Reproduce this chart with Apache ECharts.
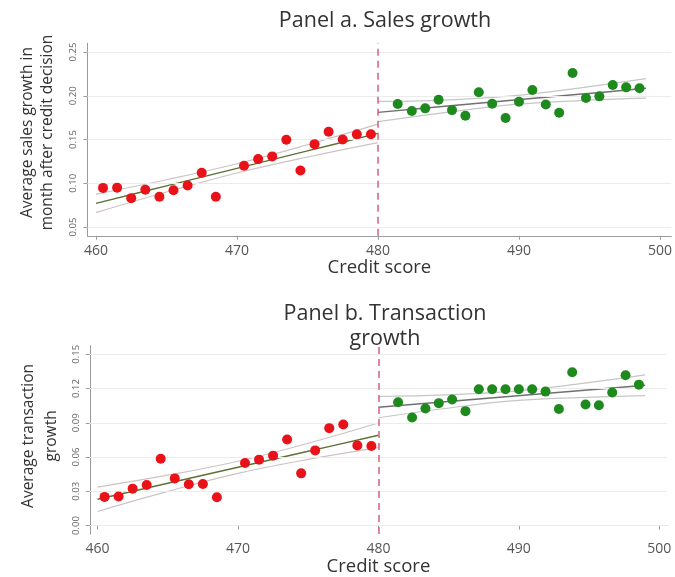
<!DOCTYPE html>
<html>
<head>
<meta charset="utf-8">
<script src="https://cdn.jsdelivr.net/npm/echarts@6/dist/echarts.min.js"></script>
<style>
html,body{margin:0;padding:0;background:#fff;}
#c{width:675px;height:577px;}
</style>
</head>
<body>
<div id="c"></div>
<script>
// ---- data ----
const scoreLeft = [460.5,461.5,462.5,463.5,464.5,465.5,466.5,467.5,468.5,470.5,471.5,472.5,473.5,474.5,475.5,476.5,477.5,478.5,479.5];
const scoreRight = [481.4,482.4,483.35,484.3,485.25,486.2,487.15,488.1,489.05,490.0,490.95,491.9,492.85,493.8,494.75,495.7,496.65,497.6,498.55];

const salesLeft = [0.0947,0.095,0.083,0.0925,0.0845,0.092,0.0975,0.112,0.0845,0.120,0.1276,0.1307,0.1497,0.1146,0.1447,0.1588,0.150,0.156,0.156];
const salesRight = [0.1905,0.1825,0.1856,0.1954,0.1836,0.1771,0.2039,0.1909,0.1745,0.1932,0.2065,0.1901,0.1806,0.226,0.1974,0.1993,0.2122,0.2096,0.2085];

const transLeft = [0.0251,0.0254,0.0323,0.0355,0.0585,0.0413,0.0361,0.0364,0.0247,0.0548,0.0577,0.0612,0.0754,0.0457,0.0658,0.0853,0.0885,0.0702,0.0696];
const transRight = [0.108,0.0946,0.1025,0.1072,0.1104,0.1002,0.1194,0.1194,0.1194,0.1194,0.1194,0.1173,0.102,0.1343,0.106,0.1054,0.1165,0.1316,0.1234];

// fitted lines and confidence bands
const fitXLeft = [460,465,470,475,480];
const fitXRight = [480,484.75,489.5,494.25,499];
const salesFitL = [0.077,0.097,0.117,0.137,0.157];
const salesUpL  = [0.0875,0.104,0.1223,0.144,0.1675];
const salesLoL  = [0.0665,0.090,0.1117,0.130,0.1465];
const salesFitR = [0.181,0.1879,0.1948,0.2016,0.2085];
const salesUpR  = [0.1935,0.1951,0.1998,0.2088,0.2195];
const salesLoR  = [0.1705,0.1807,0.1898,0.1944,0.1972];
const transFitL = [0.023,0.037,0.051,0.065,0.079];
const transUpL  = [0.0337,0.0441,0.0563,0.0721,0.0898];
const transLoL  = [0.0123,0.0299,0.0457,0.0579,0.0682];
const transFitR = [0.1037,0.1085,0.1133,0.1181,0.1229];
const transUpR  = [0.113,0.1145,0.1175,0.1241,0.132];
const transLoR  = [0.0944,0.1025,0.1091,0.1121,0.1138];

const xTicks = [460,470,480,490,500];
const yTicksA = [0.05,0.10,0.15,0.20,0.25];
const yTicksB = [0.00,0.03,0.06,0.09,0.12,0.15];
const cutoff = 480;

// ---- build ----
const FONT = "'Open Sans', 'Noto Sans', sans-serif";
const zip = (xs, ys) => xs.map((x, i) => [x, ys[i]]);
const RED = '#ea1219', GREEN = '#1e8a1e';

function xAxis(gi, min, max) {
  return {
    gridIndex: gi, type: 'value', min: min, max: max,
    name: 'Credit score', nameLocation: 'middle', nameGap: 22,
    nameTextStyle: {fontSize: 18.5, color: '#333', fontFamily: FONT},
    axisLine: {lineStyle: {color: '#9a9a9a', width: 1}},
    axisTick: {customValues: xTicks, length: 4, lineStyle: {color: '#9a9a9a'}},
    axisLabel: {customValues: xTicks, color: '#555', fontSize: 14, margin: 8, fontFamily: FONT},
    splitLine: {show: false}
  };
}
function yAxis(gi, min, max, ticks, name, lh, gap, shift) {
  return {
    gridIndex: gi, type: 'value', min: min, max: max,
    name: name, nameLocation: 'middle', nameGap: gap, nameRotate: 90,
    nameTextStyle: {fontSize: 15.5, color: '#333', fontFamily: FONT, lineHeight: lh, align: 'center',
      padding: [0, 0, 0, shift]},
    axisLine: {show: true, lineStyle: {color: '#9a9a9a', width: 1}},
    axisTick: {show: true, customValues: ticks, length: 4, lineStyle: {color: '#9a9a9a'}},
    axisLabel: {customValues: ticks, rotate: 90, color: '#666', fontSize: 9.5, margin: 9, fontFamily: FONT,
      formatter: v => v.toFixed(2)},
    splitLine: {show: false}
  };
}
function panelSeries(gi, ticks, lY, rY, fL, uL, loL, fR, uR, loR) {
  const base = {xAxisIndex: gi, yAxisIndex: gi};
  const lineS = (data, color, w, z) => Object.assign({
    type: 'line', data: data, smooth: 0.4, symbol: 'none', silent: true, z: z,
    lineStyle: {color: color, width: w}
  }, base);
  return [
    Object.assign({
      type: 'line', data: [], z: 1, silent: true,
      markLine: {silent: true, symbol: 'none', label: {show: false},
        lineStyle: {color: '#ececec', width: 1, type: 'solid'},
        data: ticks.map(t => ({yAxis: t}))}
    }, base),
    lineS(zip(fitXLeft, uL), '#cdc3c3', 1.2, 3),
    lineS(zip(fitXLeft, loL), '#cdc3c3', 1.2, 3),
    lineS(zip(fitXLeft, fL), '#5c7236', 1.5, 3),
    lineS(zip(fitXRight, uR), '#c6c6c6', 1.2, 3),
    lineS(zip(fitXRight, loR), '#c6c6c6', 1.2, 3),
    lineS(zip(fitXRight, fR), '#707070', 1.5, 3),
    Object.assign({type: 'scatter', data: zip(scoreLeft, lY), symbolSize: 10, z: 5,
      itemStyle: {color: RED, opacity: 1}}, base),
    Object.assign({type: 'scatter', data: zip(scoreRight, rY), symbolSize: 10, z: 5,
      itemStyle: {color: GREEN, opacity: 1}}, base),
    Object.assign({
      type: 'line', data: [], z: 6, silent: true,
      markLine: {silent: true, symbol: 'none', label: {show: false},
        lineStyle: {color: '#d6607e', width: 1.5, type: [7, 5]},
        data: [{xAxis: cutoff}]}
    }, base)
  ];
}

const chart = echarts.init(document.getElementById('c'), null, {renderer: 'canvas'});
chart.setOption({
  backgroundColor: '#ffffff',
  animation: false,
  title: [
    {text: 'Panel a. Sales growth', left: 380, top: 5, textAlign: 'center',
      textStyle: {fontSize: 21.5, fontWeight: 'normal', color: '#333', fontFamily: FONT}},
    {text: 'Panel b. Transaction\ngrowth', left: 380, top: 296, textAlign: 'center',
      textStyle: {fontSize: 21.5, fontWeight: 'normal', color: '#333', fontFamily: FONT, lineHeight: 25}}
  ],
  grid: [
    {left: 87.5, right: 0.7, top: 43.25, height: 192.5, containLabel: false},
    {left: 89.8, right: 8, top: 345.7, height: 188.9, containLabel: false}
  ],
  xAxis: [xAxis(0, 459.4, 500.8), xAxis(1, 459.45, 500.55)],
  yAxis: [
    yAxis(0, 0.04, 0.26, yTicksA, 'Average sales growth in\nmonth after credit decision', 20, 30, 14),
    yAxis(1, -0.0075, 0.1575, yTicksB, 'Average transaction\ngrowth', 23, 26, 8)
  ],
  series: [].concat(
    panelSeries(0, yTicksA, salesLeft, salesRight, salesFitL, salesUpL, salesLoL, salesFitR, salesUpR, salesLoR),
    panelSeries(1, yTicksB, transLeft, transRight, transFitL, transUpL, transLoL, transFitR, transUpR, transLoR)
  )
});
</script>
</body>
</html>
